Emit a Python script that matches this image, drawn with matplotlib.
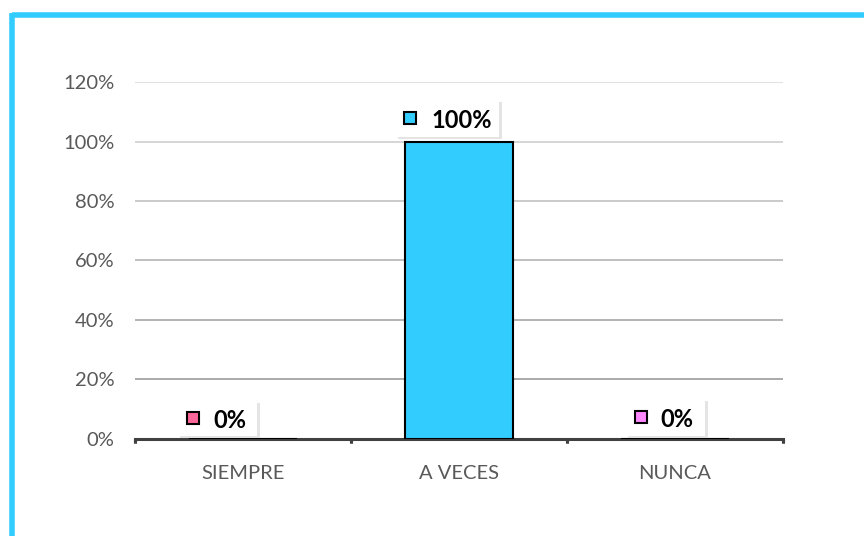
import matplotlib.pyplot as plt
from matplotlib.patches import Rectangle
from matplotlib.lines import Line2D
from matplotlib.transforms import Affine2D
from matplotlib.ticker import PercentFormatter

categories = ['SIEMPRE', 'A VECES', 'NUNCA']
values = [0, 100, 0]
labels = ['0%', '100%', '0%']
colors = ['#FF6699', '#33CCFF', '#FF88FF']
yticks = [0, 20, 40, 60, 80, 100, 120]

# label box offsets in pixels from (category, value): left, right, bottom, top, square x, text x
box_offsets = [(-66, 14, 3, 38, -50, -30),
               (-64, 40, 5, 42, -49, -28),
               (-50, 30, 3, 40, -34, -15)]

plt.rcParams['font.family'] = ['Lato', 'DejaVu Sans']

fig = plt.figure(figsize=(8.64, 5.36), dpi=100)
ax = fig.add_axes([0.15625, 0.181, 0.75, 0.666])

x = range(len(categories))
ax.bar(x, values, width=0.5, color=colors[1], edgecolor='black', linewidth=1.5, zorder=3)

ax.set_xlim(-0.5, 2.5)
ax.set_ylim(0, 120)

# gridlines get lighter towards the top
grid_cols = ['#a0a0a0', '#a4a4a4', '#aeaeae', '#bababa', '#c6c6c6', '#d2d2d2', '#dedede']
for yv, gc in zip(yticks[1:], grid_cols[1:]):
    ax.axhline(yv, color=gc, linewidth=1.3, zorder=1)

ax.set_yticks(yticks)
ax.yaxis.set_major_formatter(PercentFormatter(decimals=0))
ax.set_xticks(list(x))
ax.set_xticklabels(categories)
ax.tick_params(axis='y', length=0, pad=15, labelsize=14.5, labelcolor='#595959')
ax.tick_params(axis='x', length=0, pad=18.5, labelsize=14.5, labelcolor='#595959')

for s in ['top', 'right', 'left']:
    ax.spines[s].set_visible(False)
ax.spines['bottom'].set_color('#404040')
ax.spines['bottom'].set_linewidth(2.2)

# category boundary ticks
for b in [-0.5, 0.5, 1.5, 2.5]:
    ax.plot([b, b], [0, 0], marker=[(0, 0), (0, -1)], markersize=6,
            markeredgewidth=2.2, color='#404040', clip_on=False, zorder=4)

fig.canvas.draw()
for i, (v, lab, c) in enumerate(zip(values, labels, colors)):
    px, py = ax.transData.transform((i, v))
    l, r, b, t, sx, tx = box_offsets[i]
    shadow = Rectangle((px + l + 3, py + b - 2), r - l, t - b, transform=Affine2D(),
                       facecolor='#e4e4e4', edgecolor='none', zorder=5, clip_on=False)
    box = Rectangle((px + l, py + b), r - l, t - b, transform=Affine2D(),
                    facecolor='white', edgecolor='none', zorder=6, clip_on=False)
    fig.add_artist(shadow)
    fig.add_artist(box)
    ym = py + (b + t) / 2
    sq = Line2D([px + sx], [ym], marker='s', markersize=9, markerfacecolor=c,
                markeredgecolor='black', markeredgewidth=1.5, transform=Affine2D(), zorder=7)
    fig.add_artist(sq)
    fig.text(px + tx, ym, lab, transform=Affine2D(), ha='left', va='center_baseline',
             fontsize=17, fontweight='bold', color='black', zorder=7)

# outer blue frame (top and left only)
fig.add_artist(Line2D([11.5, 864], [536 - 14.5, 536 - 14.5], transform=Affine2D(),
                      color='#33CCFF', linewidth=4, solid_capstyle='butt'))
fig.add_artist(Line2D([11.5, 11.5], [0, 536 - 12.5], transform=Affine2D(),
                      color='#33CCFF', linewidth=4, solid_capstyle='butt'))

fig.savefig('out.png', dpi=100)
